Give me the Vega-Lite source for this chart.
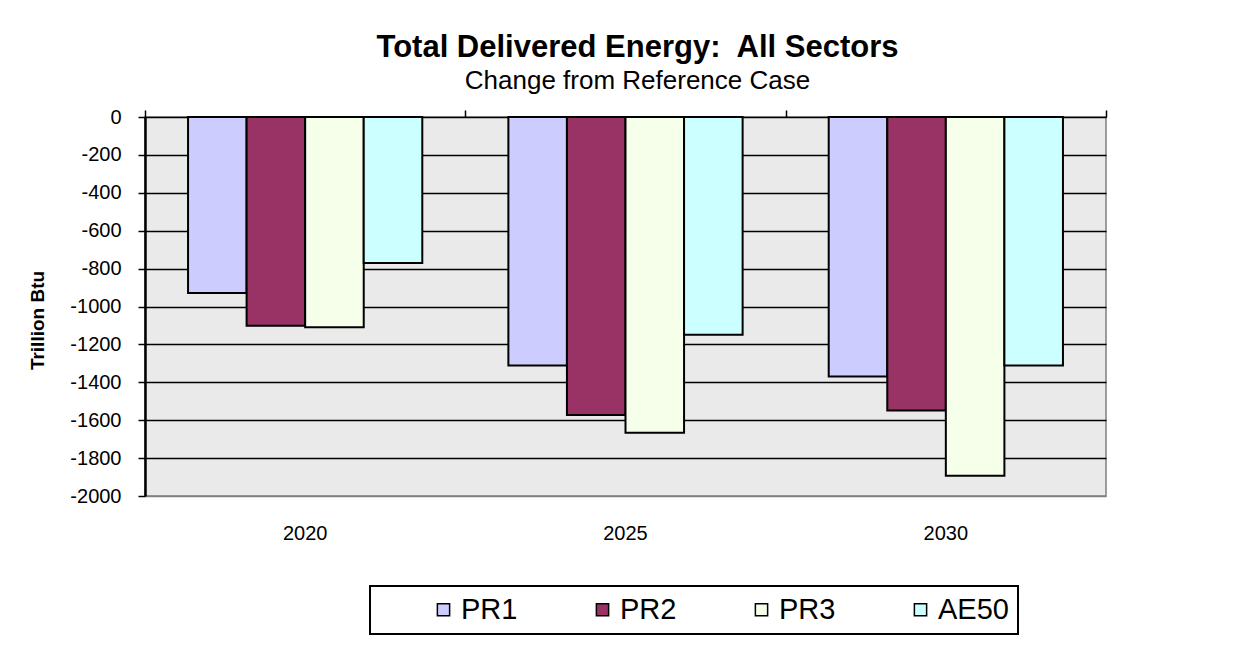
{
  "$schema": "https://vega.github.io/schema/vega-lite/v6.json",
  "width": 961,
  "height": 379,
  "autosize": {"type": "none"},
  "padding": {"left": 145, "top": 117, "right": 144, "bottom": 160},
  "background": "white",
  "title": {
    "text": "Total Delivered Energy:\u00a0 All Sectors",
    "subtitle": "Change from Reference Case",
    "anchor": "middle",
    "frame": "group",
    "dx": 12,
    "offset": 12,
    "font": "Liberation Sans",
    "fontSize": 31,
    "fontWeight": "bold",
    "color": "black",
    "subtitleFont": "Liberation Sans",
    "subtitleFontSize": 26,
    "subtitleColor": "black",
    "subtitlePadding": 4
  },
  "data": {
    "values": [
      {"year": "2020", "scenario": "PR1", "value": -929},
      {"year": "2020", "scenario": "PR2", "value": -1102},
      {"year": "2020", "scenario": "PR3", "value": -1109},
      {"year": "2020", "scenario": "AE50", "value": -771},
      {"year": "2025", "scenario": "PR1", "value": -1311},
      {"year": "2025", "scenario": "PR2", "value": -1573},
      {"year": "2025", "scenario": "PR3", "value": -1666},
      {"year": "2025", "scenario": "AE50", "value": -1149},
      {"year": "2030", "scenario": "PR1", "value": -1369},
      {"year": "2030", "scenario": "PR2", "value": -1549},
      {"year": "2030", "scenario": "PR3", "value": -1893},
      {"year": "2030", "scenario": "AE50", "value": -1311}
    ]
  },
  "encoding": {
    "y": {
      "field": "value",
      "type": "quantitative",
      "scale": {"domain": [-2000, 0], "nice": false, "zero": false},
      "axis": {
        "title": "Trillion Btu",
        "titleFont": "Liberation Sans",
        "titleFontSize": 19,
        "titleFontWeight": "bold",
        "titleColor": "black",
        "titlePadding": 22,
        "titleY": 203,
        "values": [0, -200, -400, -600, -800, -1000, -1200, -1400, -1600, -1800, -2000],
        "labelExpr": "datum.value + ''",
        "labelOverlap": false,
        "labelBound": false,
        "labelFont": "Liberation Sans",
        "labelFontSize": 20,
        "labelColor": "black",
        "labelPadding": 17,
        "tickColor": "black",
        "tickSize": 7,
        "tickWidth": 1.5,
        "domainColor": "black",
        "domainWidth": 2.5,
        "grid": true,
        "gridColor": {"condition": {"test": "datum.value == -2000", "value": "#808080"}, "value": "black"},
        "gridWidth": 1.5,
        "gridOpacity": 1
      }
    }
  },
  "layer": [
    {
      "mark": {"type": "bar", "stroke": "black", "strokeWidth": 2},
      "encoding": {
        "x": {
          "field": "year",
          "type": "nominal",
          "scale": {"paddingInner": 0, "paddingOuter": 0},
          "axis": {
            "title": null,
            "labelAngle": 0,
            "labelFont": "Liberation Sans",
            "labelFontSize": 20,
            "labelColor": "black",
            "labelPadding": 27,
            "ticks": false,
            "domain": false
          }
        },
        "xOffset": {
          "field": "scenario",
          "type": "nominal",
          "sort": ["PR1", "PR2", "PR3", "AE50"],
          "scale": {"paddingInner": 0, "paddingOuter": 0.735}
        },
        "fill": {
          "field": "scenario",
          "type": "nominal",
          "sort": ["PR1", "PR2", "PR3", "AE50"],
          "scale": {
            "domain": ["PR1", "PR2", "PR3", "AE50"],
            "range": ["#CCCCFF", "#993366", "#F5FFEA", "#CCFFFF"]
          },
          "legend": {
            "title": "\u00a0",
            "titleOrient": "left",
            "titlePadding": 50,
            "titleFontSize": 10,
            "orient": "none",
            "direction": "horizontal",
            "legendX": 225,
            "legendY": 469,
            "padding": 9,
            "strokeColor": "black",
            "fillColor": "white",
            "symbolType": "square",
            "symbolSize": 150,
            "symbolStrokeColor": "black",
            "symbolStrokeWidth": 1.5,
            "symbolOpacity": 1,
            "labelFont": "Liberation Sans",
            "labelFontSize": 29,
            "labelColor": "black",
            "labelOffset": 3,
            "labelExpr": "datum.label == 'AE50' ? datum.label + '\u00a0\u00a0\u00a0\u00a0\u00a0\u00a0\u00a0\u00a0' : datum.label",
            "columnPadding": 70,
            "encode": {"legend": {"update": {"strokeWidth": {"value": 2}}}}
          }
        }
      }
    },
    {
      "mark": {"type": "bar", "opacity": 0},
      "encoding": {
        "x": {
          "field": "year",
          "type": "nominal",
          "axis": {
            "orient": "top",
            "title": null,
            "labels": false,
            "domain": false,
            "ticks": true,
            "tickBand": "extent",
            "tickColor": "black",
            "tickSize": 7,
            "tickWidth": 1.5
          }
        }
      }
    }
  ],
  "resolve": {"axis": {"x": "independent"}},
  "config": {
    "view": {"fill": "#EAEAEA", "stroke": "#808080", "strokeWidth": 1.5}
  }
}
